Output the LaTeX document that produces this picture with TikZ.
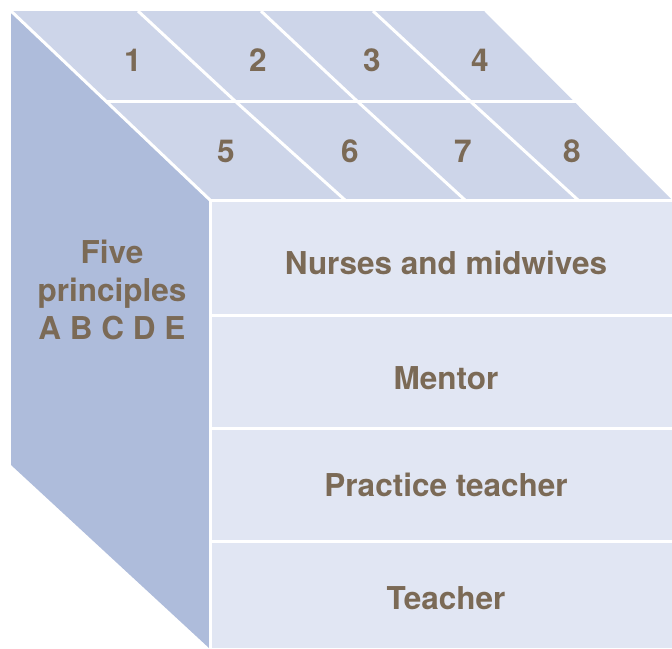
\documentclass[tikz,border=0pt]{standalone}
\usepackage{fontspec}
\setmainfont{TeX Gyre Heros}
\definecolor{topc}{HTML}{CDD5E9}
\definecolor{leftc}{HTML}{AEBCDB}
\definecolor{frontc}{HTML}{E1E6F3}
\definecolor{txt}{HTML}{7B6A56}
\begin{document}
\begin{tikzpicture}[x=1pt,y=-1pt,
  gap/.style={draw=white,line width=3pt},
  lbl/.style={text=txt,font=\bfseries\fontsize{31.5}{38}\selectfont,inner sep=0pt,align=center}]
\useasboundingbox (0,0) rectangle (672,648);
% faces
\fill[leftc] (11,11) -- (209,200) -- (209,648) -- (11,465) -- cycle;
\fill[topc] (11,11) -- (484,11) -- (672,200) -- (209,200) -- cycle;
\fill[frontc] (210,200) rectangle (672,648);
% top face grid
\draw[gap] (11,11) -- (210,200);
\draw[gap] (107,101) -- (577,101);
\draw[gap] (138,11) -- (235,101) -- (345,200);
\draw[gap] (261,11) -- (357,101) -- (465,200);
\draw[gap] (373,11) -- (470,101) -- (578,200);
% edges between faces
\draw[gap] (209,200) -- (673,200);
\draw[gap] (210,200) -- (210,649);
% front rows
\draw[gap] (210,315.5) -- (673,315.5);
\draw[gap] (210,428) -- (673,428);
\draw[gap] (210,541) -- (673,541);
% numbers
\node[lbl] (n1) at (133,60) {1};
\node[lbl] (n2) at (258,60) {2};
\node[lbl] (n3) at (372,60) {3};
\node[lbl] (n4) at (480,60) {4};
\node[lbl] (n5) at (226,151) {5};
\node[lbl] (n6) at (350,151) {6};
\node[lbl] (n7) at (463,151) {7};
\node[lbl] (n8) at (572,151) {8};
% left face text
\node[lbl] (left) at (112,290) {Five\\principles\\A B C D E};
% front rows text
\node[lbl] (r1) at (446,263) {Nurses and midwives};
\node[lbl] (r2) at (446,378) {Mentor};
\node[lbl] (r3) at (446,485) {Practice teacher};
\node[lbl] (r4) at (446,598) {Teacher};
\end{tikzpicture}
\end{document}
